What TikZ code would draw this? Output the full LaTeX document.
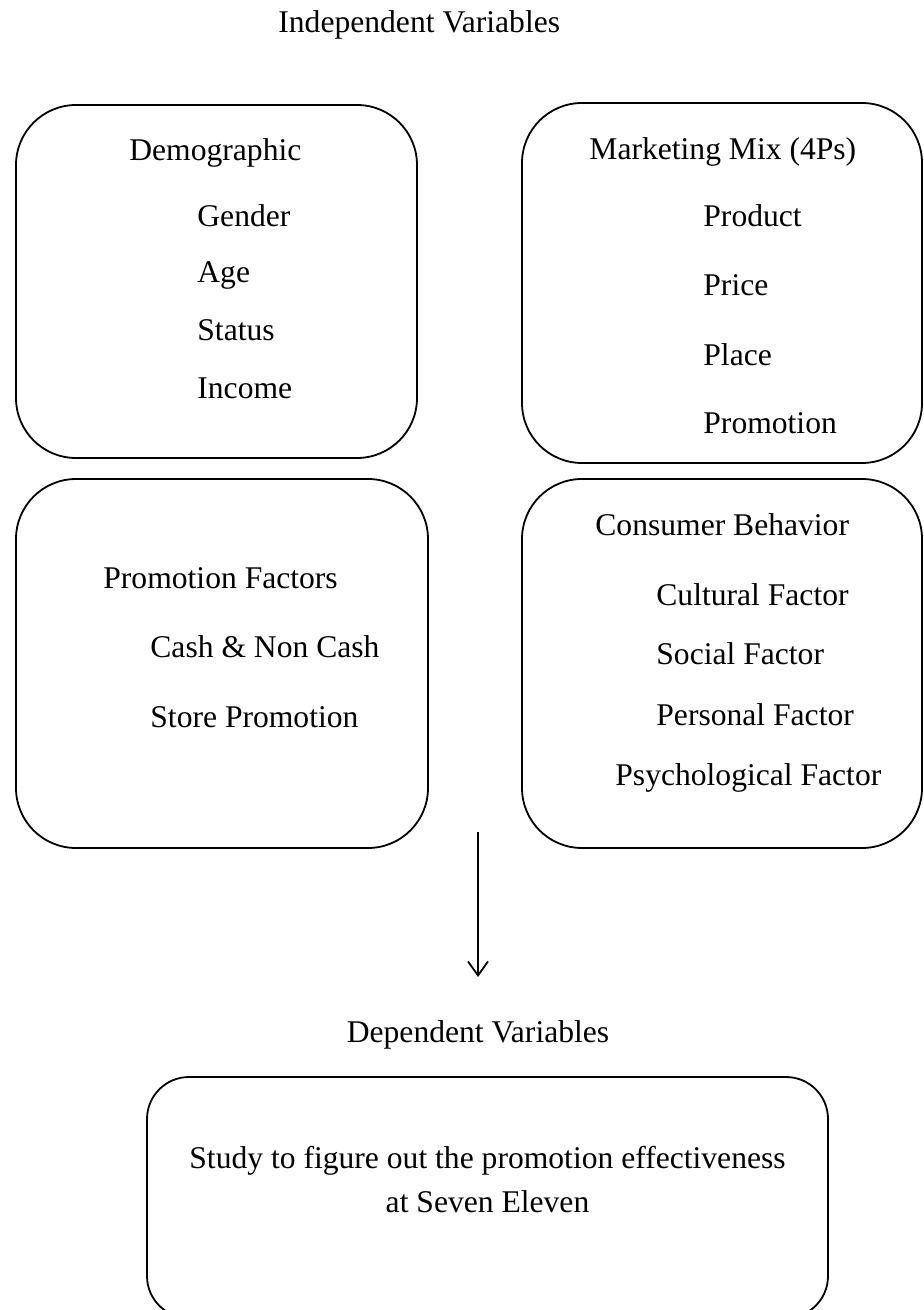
\documentclass[tikz,border=0pt]{standalone}
\usepackage{fontspec}
\setmainfont{Liberation Serif}
\usetikzlibrary{arrows.meta,positioning}

\begin{document}
\begin{tikzpicture}[
        x=0.5pt, y=-0.5pt,
        varbox/.style={rectangle, rounded corners=30pt, draw=black, line width=0.9pt, inner sep=0pt},
        txt/.style={anchor=base west, inner sep=0pt, font=\fontsize{15.8}{19}\selectfont},
        arrow/.style={line width=0.9pt, -{Straight Barb[length=7pt, width=10pt]}},
    ]
    \useasboundingbox (0,0) rectangle (923,1310);

    % Boxes
    \node[varbox, minimum width=200.5pt, minimum height=176.5pt] (demo) at (216.5,281.5) {};
    \node[varbox, minimum width=200pt, minimum height=180pt] (mix) at (722,283) {};
    \node[varbox, minimum width=206pt, minimum height=184.5pt] (promo) at (222,663.5) {};
    \node[varbox, minimum width=200pt, minimum height=184.5pt] (consumer) at (722,663.5) {};
    \node[varbox, rounded corners=21pt, minimum width=340.5pt, minimum height=120.5pt] (study) at (487.5,1197.5) {};

    % Independent variables
    \node[txt] (indep) at (278,33) {Independent Variables};

    \node[txt] (demohead) at (129,161) {Demographic};
    \node[txt] (gender) at (197,227) {Gender};
    \node[txt] (age) at (197,283) {Age};
    \node[txt] (status) at (197,341) {Status};
    \node[txt] (income) at (197,398) {Income};

    \node[txt] (mixhead) at (589,160) {Marketing Mix (4Ps)};
    \node[txt] (product) at (703,227) {Product};
    \node[txt] (price) at (703,296) {Price};
    \node[txt] (place) at (703,365) {Place};
    \node[txt] (promotion) at (703,433) {Promotion};

    \node[txt] (promohead) at (103,588) {Promotion Factors};
    \node[txt] (cash) at (150,657) {Cash \& Non Cash};
    \node[txt] (store) at (150,727) {Store Promotion};

    \node[txt] (conshead) at (595,535) {Consumer Behavior};
    \node[txt] (cultural) at (656,605) {Cultural Factor};
    \node[txt] (social) at (656,664) {Social Factor};
    \node[txt] (personal) at (656,725) {Personal Factor};
    \node[txt] (psych) at (615,785) {Psychological Factor};

    % Dependent variable
    \node[txt, anchor=base] (dep) at (478,1042) {Dependent Variables};
    \node[txt, anchor=base] (study1) at (487.5,1168) {Study to figure out the promotion effectiveness};
    \node[txt, anchor=base] (study2) at (487.5,1212) {at Seven Eleven};

    % Arrow between the two groups
    \coordinate (arrtop) at (478,832);
    \coordinate (arrtip) at (478,977);
    \draw[arrow] (arrtop) -- (arrtip);

\end{tikzpicture}
\end{document}
